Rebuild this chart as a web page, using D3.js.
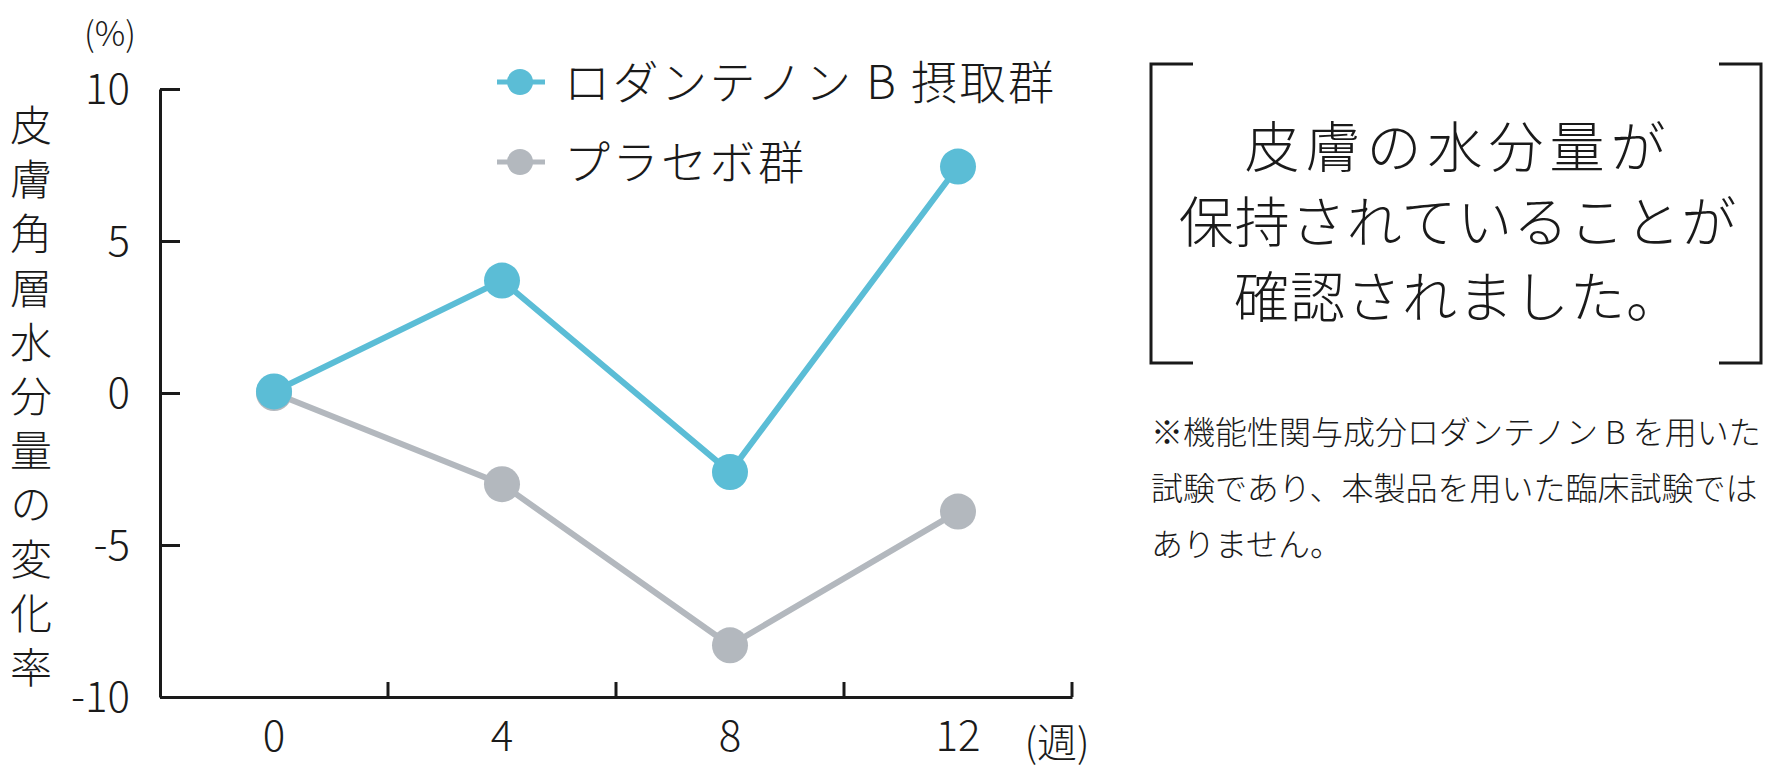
<!DOCTYPE html>
<html>
<head>
<meta charset="utf-8">
<script src="https://cdn.jsdelivr.net/npm/d3@7"></script>
<style>
  body { margin: 0; background: #fff; }
  svg text { font-family: "Noto Sans CJK JP", "Noto Sans", sans-serif; font-weight: 300; fill: #1a1a1a; }
</style>
</head>
<body>
<div id="chart"></div>
<script>
var weeks = ["0", "4", "8", "12"]
var rodantenon = [0.05, 3.7, -2.6, 7.45]
var placebo = [0.0, -3.0, -8.3, -3.9]
var yTicks = [10, 5, 0, -5, -10]
var seriesNames = ["ロダンテノン B 摂取群", "プラセボ群"]
var seriesColors = ["#5bbdd6", "#b3b8be"]
var yLabel = "皮膚角層水分量の変化率"
var boxLines = ["皮膚の水分量が", "保持されていることが", "確認されました。"]
var noteLines = ["※機能性関与成分ロダンテノン B を用いた", "試験であり、本製品を用いた臨床試験では", "ありません。"]

let svg = d3.select("#chart")
    .append("svg")
    .attr("width", 1770)
    .attr("height", 780)

var x = d3.scaleBand()
    .domain(weeks)
    .range([160, 1072])
    .padding(0)
var y = d3.scaleLinear()
    .domain([-10, 10])
    .range([697, 89])
var cx = d => x(d) + x.bandwidth() / 2

// y axis, ticks pointing inward
let yAxis = svg.append("g")
    .attr("transform", "translate(160,0)")
    .call(d3.axisLeft(y).tickValues(yTicks).tickFormat(d => String(d))
        .tickSizeInner(-20).tickSizeOuter(0).tickPadding(30))
yAxis.select(".domain").attr("stroke", "#1a1a1a").attr("stroke-width", 3)
yAxis.selectAll(".tick line").attr("stroke", "#1a1a1a").attr("stroke-width", 3)
yAxis.selectAll(".tick text")
    .style("font-size", "42px")
    .attr("dy", "0.35em")

// x axis: labels centred in bands, ticks on band edges
let xAxis = svg.append("g")
    .attr("transform", "translate(0,697)")
    .call(d3.axisBottom(x).tickSize(0).tickPadding(24))
xAxis.select(".domain").attr("stroke", "#1a1a1a").attr("stroke-width", 3)
xAxis.selectAll(".tick text").style("font-size", "42px")
xAxis.selectAll(".edge")
    .data(weeks)
    .enter().append("line")
    .attr("class", "edge")
    .attr("x1", d => x(d) + x.bandwidth())
    .attr("x2", d => x(d) + x.bandwidth())
    .attr("y1", 0)
    .attr("y2", -15)
    .attr("stroke", "#1a1a1a")
    .attr("stroke-width", 3)

svg.append("text")
    .attr("x", 1057)
    .attr("y", 757)
    .attr("text-anchor", "middle")
    .style("font-size", "40px")
    .text("(週)")

svg.append("text")
    .attr("x", 110)
    .attr("y", 46)
    .attr("text-anchor", "middle")
    .style("font-size", "34px")
    .text("(%)")

// vertical y label
svg.append("text")
    .attr("x", 31)
    .attr("y", 104)
    .style("writing-mode", "vertical-rl")
    .style("font-size", "42px")
    .style("letter-spacing", "12.2px")
    .text(yLabel)

// lines and points
var line = d3.line()
    .x((d, i) => cx(weeks[i]))
    .y(d => y(d))

;[placebo, rodantenon].forEach(function(vals, k) {
    var col = k == 0 ? seriesColors[1] : seriesColors[0]
    svg.append("path")
        .datum(vals)
        .attr("d", line)
        .attr("fill", "none")
        .attr("stroke", col)
        .attr("stroke-width", 6)
    svg.selectAll(".pt" + k)
        .data(vals)
        .enter().append("circle")
        .attr("class", "pt" + k)
        .attr("cx", (d, i) => cx(weeks[i]))
        .attr("cy", d => y(d))
        .attr("r", 18)
        .attr("fill", col)
})

// legend
let legend = svg.append("g")
seriesNames.forEach(function(name, i) {
    var ly = 82 + i * 80
    legend.append("line")
        .attr("x1", 497).attr("x2", 545)
        .attr("y1", ly).attr("y2", ly)
        .attr("stroke", seriesColors[i])
        .attr("stroke-width", 5)
    legend.append("circle")
        .attr("cx", 520).attr("cy", ly)
        .attr("r", 13)
        .attr("fill", seriesColors[i])
    legend.append("text")
        .attr("x", 564)
        .attr("y", ly)
        .attr("dy", "0.36em")
        .style("font-size", "46px")
        .style("letter-spacing", "2.5px")
        .text(name)
})

// bracket box
let box = svg.append("g")
    .attr("fill", "none")
    .attr("stroke", "#1a1a1a")
    .attr("stroke-width", 3)
box.append("path").attr("d", "M1193,64 H1151 V363 H1193")
box.append("path").attr("d", "M1719,64 H1761 V363 H1719")

svg.selectAll(".boxline")
    .data(boxLines)
    .enter().append("text")
    .attr("class", "boxline")
    .attr("x", 1458)
    .attr("y", (d, i) => 147 + i * 75)
    .attr("dy", "0.36em")
    .attr("text-anchor", "middle")
    .style("font-size", "55px")
    .style("letter-spacing", (d, i) => i == 0 ? "6px" : "1px")
    .text(d => d)

svg.selectAll(".note")
    .data(noteLines)
    .enter().append("text")
    .attr("class", "note")
    .attr("x", 1151)
    .attr("y", (d, i) => 432 + i * 56)
    .attr("dy", "0.36em")
    .style("font-size", "32px")
    .text(d => d)
</script>
</body>
</html>
